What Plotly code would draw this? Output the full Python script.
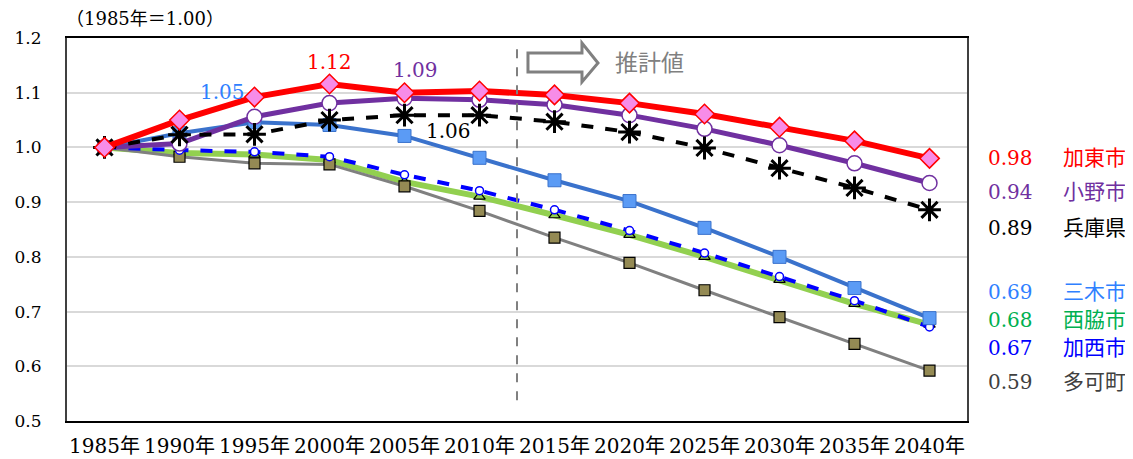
import plotly.graph_objects as go

years = ["1985年", "1990年", "1995年", "2000年", "2005年", "2010年", "2015年",
         "2020年", "2025年", "2030年", "2035年", "2040年"]

kato = [1.00, 1.050, 1.092, 1.116, 1.100, 1.103, 1.096, 1.081, 1.061, 1.037, 1.012, 0.980]
ono = [1.00, 1.007, 1.056, 1.081, 1.090, 1.087, 1.078, 1.059, 1.034, 1.004, 0.971, 0.935]
hyogo = [1.00, 1.023, 1.024, 1.050, 1.059, 1.059, 1.047, 1.028, 0.999, 0.962, 0.926, 0.886]
miki = [1.00, 1.026, 1.046, 1.041, 1.021, 0.981, 0.940, 0.902, 0.853, 0.800, 0.743, 0.688]
nishiwaki = [1.00, 0.990, 0.987, 0.977, 0.937, 0.910, 0.876, 0.840, 0.800, 0.758, 0.714, 0.676]
kasai = [1.00, 0.995, 0.992, 0.983, 0.950, 0.921, 0.886, 0.848, 0.807, 0.764, 0.720, 0.672]
taka = [1.00, 0.983, 0.971, 0.969, 0.929, 0.884, 0.835, 0.789, 0.739, 0.690, 0.641, 0.592]

end_labels = ["0.98", "0.94", "0.89", "0.69", "0.68", "0.67", "0.59"]
end_names = ["加東市", "小野市", "兵庫県", "三木市", "西脇市", "加西市", "多可町"]

FONT = "DejaVu Serif, Noto Sans CJK JP, serif"

fig = go.Figure()

fig.add_trace(go.Scatter(x=years, y=nishiwaki, mode="lines+markers", name="西脇市",
    line=dict(color="#92d050", width=6),
    marker=dict(symbol="triangle-up", size=10, color="#92d050", line=dict(color="#000000", width=1.2))))
fig.add_trace(go.Scatter(x=years, y=taka, mode="lines+markers", name="多可町",
    line=dict(color="#808080", width=3),
    marker=dict(symbol="square", size=11, color="#948a54", line=dict(color="#000000", width=1.2))))
fig.add_trace(go.Scatter(x=years, y=kasai, mode="lines+markers", name="加西市",
    line=dict(color="#0000ff", width=4, dash="dash"),
    marker=dict(symbol="circle", size=8, color="#ffffff", line=dict(color="#0000ff", width=1.5))))
fig.add_trace(go.Scatter(x=years, y=miki, mode="lines+markers", name="三木市",
    line=dict(color="#3a72cc", width=4),
    marker=dict(symbol="square", size=13, color="#5b9bf5", line=dict(color="#3a72cc", width=1))))
fig.add_trace(go.Scatter(x=years, y=ono, mode="lines+markers", name="小野市",
    line=dict(color="#7030a0", width=5),
    marker=dict(symbol="circle", size=15, color="#ffffff", line=dict(color="#7030a0", width=1.5))))
fig.add_trace(go.Scatter(x=years, y=hyogo, mode="lines+markers", name="兵庫県",
    line=dict(color="#000000", width=4, dash="dash"),
    marker=dict(symbol="asterisk-open", size=19, color="#000000", line=dict(color="#000000", width=3))))
fig.add_trace(go.Scatter(x=years, y=kato, mode="lines+markers", name="加東市",
    line=dict(color="#ff0000", width=6),
    marker=dict(symbol="diamond", size=15, color="#f78ce8", line=dict(color="#ff0000", width=1.5))))

# forecast divider
fig.add_shape(type="line", xref="x", yref="y", x0=5.5, x1=5.5, y0=0.538, y1=1.187,
              line=dict(color="#808080", width=2, dash="dash"))
# outlined arrow
fig.add_shape(type="path", xref="paper", yref="paper",
              path="M 0.5122 0.9608 L 0.5722 0.9608 L 0.5722 0.9869 L 0.59 0.9347 "
                   "L 0.5722 0.8851 L 0.5722 0.9112 L 0.5122 0.9112 Z",
              line=dict(color="#808080", width=3), fillcolor="rgba(0,0,0,0)")

annos = [
    dict(x=-0.003, y=1.052, xref="paper", yref="paper", text="（1985年＝1.00）",
         xanchor="left", font=dict(size=18, color="#000000")),
    dict(x=0.647, y=0.935, xref="paper", yref="paper", text="推計値",
         font=dict(size=23, color="#808080")),
    dict(x=3, y=1.156, xref="x", yref="y", text="1.12", font=dict(size=20, color="#ff0000")),
    dict(x=4.14, y=1.141, xref="x", yref="y", text="1.09", font=dict(size=20, color="#7030a0")),
    dict(x=1.57, y=1.101, xref="x", yref="y", text="1.05", font=dict(size=20, color="#2f80ff")),
    dict(x=4.58, y=1.030, xref="x", yref="y", text="1.06", font=dict(size=20, color="#000000")),
]

label_colors = ["#ff0000", "#7030a0", "#000000", "#2f80ff", "#00b050", "#0000ff", "#404040"]
label_y = [0.6867, 0.598, 0.504, 0.3368, 0.2637, 0.1906, 0.1018]
for v, nm, c, yy in zip(end_labels, end_names, label_colors, label_y):
    annos.append(dict(x=1.048, y=yy, xref="paper", yref="paper", text=v,
                      font=dict(size=20, color=c)))
    annos.append(dict(x=1.142, y=yy, xref="paper", yref="paper", text=nm,
                      font=dict(size=21, color=c)))
for a in annos:
    a.setdefault("showarrow", False)
    a.setdefault("xanchor", "center")
    a.setdefault("yanchor", "middle")
fig.update_layout(annotations=annos)

# page body has an 8px default margin: compensate so the plot area lands where the reference's is
fig.update_layout(
    width=1125, height=451,
    margin=dict(l=59, r=166, t=30, b=38),
    paper_bgcolor="#ffffff", plot_bgcolor="#ffffff",
    font=dict(family=FONT, size=18, color="#000000"),
    showlegend=False,
    xaxis=dict(type="category", range=[-0.5, 11.5], showgrid=False, zeroline=False,
               showline=True, linecolor="#000000", linewidth=2, mirror=True,
               ticks="", tickfont=dict(size=20), ticklabelstandoff=6, automargin=False),
    yaxis=dict(range=[0.5, 1.2], dtick=0.1, tickformat=".1f", showgrid=True,
               gridcolor="#d9d9d9", gridwidth=2, zeroline=False,
               showline=True, linecolor="#404040", linewidth=2, mirror=True,
               ticks="", tickfont=dict(size=17), ticklabelstandoff=20, automargin=False),
)

fig.write_html("out.html")
